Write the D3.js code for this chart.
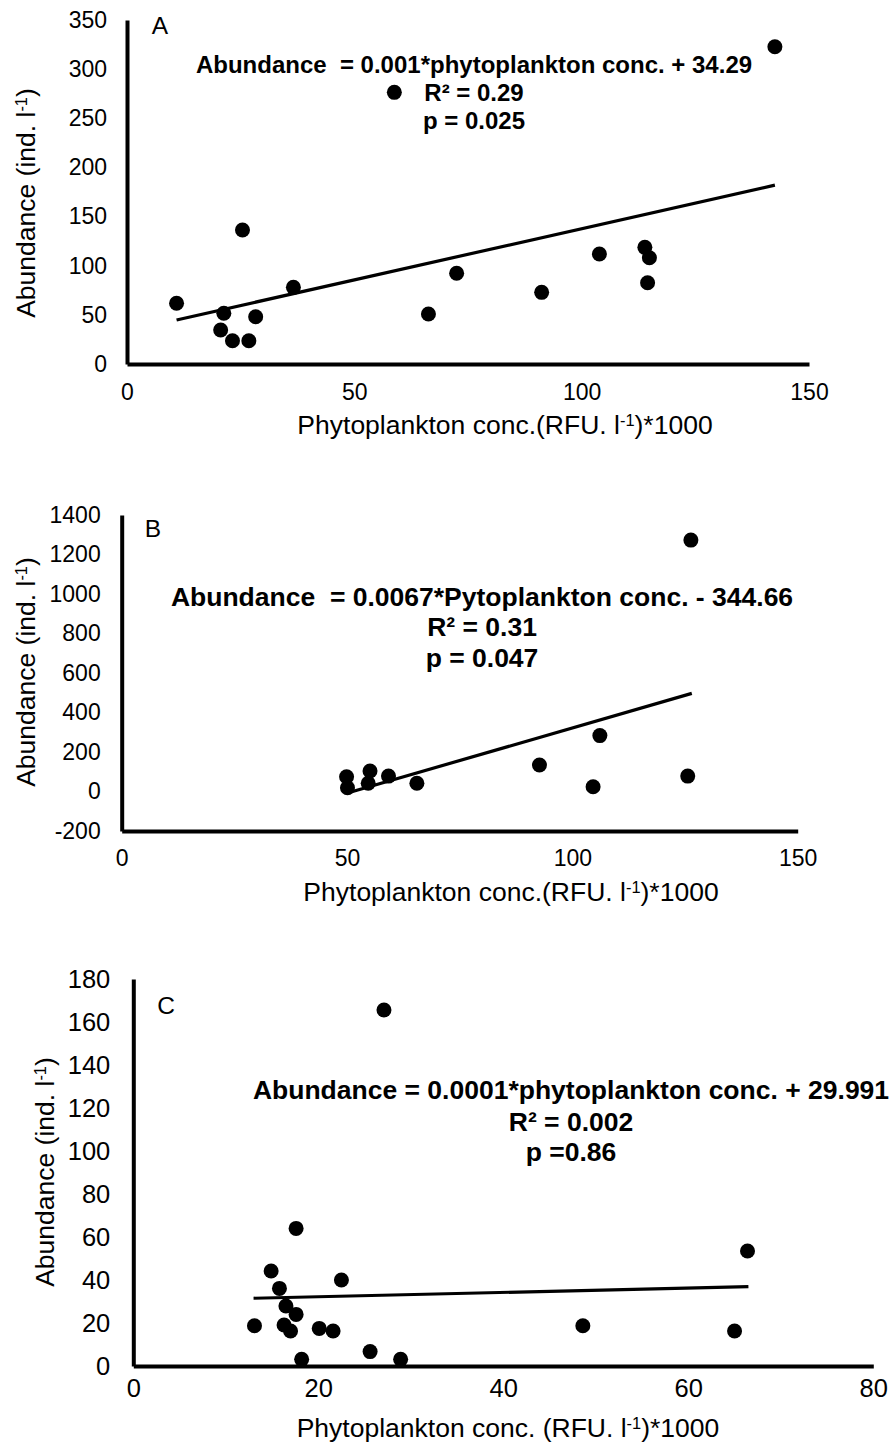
<!DOCTYPE html>
<html>
<head>
<meta charset="utf-8">
<script src="https://cdn.jsdelivr.net/npm/d3@7"></script>
<style>
  html, body { margin: 0; padding: 0; background: #fff; }
  svg { display: block; }
  text { font-family: "Liberation Sans", Arial, sans-serif; fill: #000; }
</style>
</head>
<body>
<svg id="chart" width="893" height="1443"></svg>
<script>
// ---------- Data ----------
// Panel A
const aLabel = "A";
const aPhyto = [10.9, 25.4, 21.3, 20.6, 23.2, 26.8, 28.3, 36.6, 66.3, 58.8, 142.5, 72.5, 91.2, 103.9, 113.9, 114.9, 114.5];
const aAbund = [61.8, 136.3, 51.6, 34.6, 23.7, 23.7, 48.1, 78.0, 50.9, 276.4, 322.8, 92.3, 72.9, 111.9, 118.7, 108.1, 82.7];
const aTrendX = [10.9, 142.5];
const aTrendY = [44.8, 182.0];
const aXTicks = [0, 50, 100, 150];
const aYTicks = [0, 50, 100, 150, 200, 250, 300, 350];
const aEquation = ["Abundance  = 0.001*phytoplankton conc. + 34.29", "R\u00B2 = 0.29", "p = 0.025"];

// Panel B
const bLabel = "B";
const bPhyto = [49.9, 50.1, 55.1, 54.7, 59.2, 65.5, 126.3, 92.7, 106.1, 104.6, 125.6];
const bAbund = [75, 19, 104, 42, 78, 42, 1273, 134, 283, 24, 78];
const bTrendX = [49.9, 126.5];
const bTrendY = [-9, 497];
const bXTicks = [0, 50, 100, 150];
const bYTicks = [-200, 0, 200, 400, 600, 800, 1000, 1200, 1400];
const bEquation = ["Abundance  = 0.0067*Pytoplankton conc. - 344.66", "R\u00B2 = 0.31", "p = 0.047"];

// Panel C
const cLabel = "C";
const cPhyto = [27.1, 17.6, 14.9, 15.8, 22.5, 16.5, 17.6, 13.1, 16.3, 17.0, 20.1, 21.6, 18.2, 25.6, 28.9, 66.4, 48.6, 65.0];
const cAbund = [165.6, 64.0, 44.2, 36.1, 40.0, 27.9, 24.0, 18.7, 19.1, 16.3, 17.5, 16.3, 3.1, 6.7, 3.1, 53.5, 18.7, 16.3];
const cTrendX = [13.0, 66.5];
const cTrendY = [31.5, 36.9];
const cXTicks = [0, 20, 40, 60, 80];
const cYTicks = [0, 20, 40, 60, 80, 100, 120, 140, 160, 180];
const cEquation = ["Abundance = 0.0001*phytoplankton conc. + 29.991", "R\u00B2 = 0.002", "p =0.86"];

const xTitleAB = "Phytoplankton conc.(RFU. l";
const xTitleC = "Phytoplankton conc. (RFU. l";
const yTitle = "Abundance (ind. l";

// ---------- Layout ----------
const layouts = [
  { label: aLabel, xs: aPhyto, ys: aAbund, tx: aTrendX, ty: aTrendY, xt: aXTicks, yt: aYTicks, eq: aEquation, xTitle: xTitleAB,
    xr: [127, 809], yr: [364, 20], xd: [0, 150], yd: [0, 350], tickFs: 23, xPad: 20, yPad: 20,
    eqX: 474, eqY: [65, 93, 121], eqFs: 24, lab: [160, 25], yTitlePos: [26, 203], xTitlePos: [505, 425] },
  { label: bLabel, xs: bPhyto, ys: bAbund, tx: bTrendX, ty: bTrendY, xt: bXTicks, yt: bYTicks, eq: bEquation, xTitle: xTitleAB,
    xr: [121.7, 797.7], yr: [831, 515], xd: [0, 150], yd: [-200, 1400], tickFs: 23, xPad: 18.5, yPad: 21,
    eqX: 482, eqY: [597, 627, 658], eqFs: 26.5, lab: [153, 528], yTitlePos: [26, 672], xTitlePos: [511, 892] },
  { label: cLabel, xs: cPhyto, ys: cAbund, tx: cTrendX, ty: cTrendY, xt: cXTicks, yt: cYTicks, eq: cEquation, xTitle: xTitleC,
    xr: [133.3, 873.3], yr: [1366, 979], xd: [0, 80], yd: [0, 180], tickFs: 25.5, xPad: 13, yPad: 23,
    eqX: 571, eqY: [1090, 1122, 1152], eqFs: 26.5, lab: [166, 1005], yTitlePos: [45, 1172], xTitlePos: [508, 1428] }
];

const svg = d3.select("#chart");
const plainFmt = d => String(d);

function addSupTitle(sel, base) {
  sel.append("tspan").text(base);
  sel.append("tspan").attr("font-size", "0.62em").attr("dy", "-0.5em").text("-1");
  sel.append("tspan").attr("dy", "0.31em").text(")" + (base.startsWith("Phyto") ? "*1000" : ""));
}

layouts.forEach(p => {
  const g = svg.append("g");
  const x = d3.scaleLinear().domain(p.xd).range(p.xr);
  const y = d3.scaleLinear().domain(p.yd).range(p.yr);

  // X axis
  const xAxis = d3.axisBottom(x).tickValues(p.xt).tickSize(0).tickSizeOuter(0).tickPadding(p.xPad).tickFormat(plainFmt);
  const gx = g.append("g").attr("transform", `translate(0,${p.yr[0]})`).call(xAxis);
  gx.select(".domain").attr("stroke", "#000").attr("stroke-width", 4);
  gx.selectAll("text").attr("font-size", p.tickFs).attr("font-family", "Liberation Sans, Arial, sans-serif").attr("fill", "#000");

  // Y axis
  const yAxis = d3.axisLeft(y).tickValues(p.yt).tickSize(0).tickSizeOuter(0).tickPadding(p.yPad).tickFormat(plainFmt);
  const gy = g.append("g").attr("transform", `translate(${p.xr[0]},0)`).call(yAxis);
  gy.select(".domain").attr("stroke", "#000").attr("stroke-width", 4);
  gy.selectAll("text").attr("font-size", p.tickFs).attr("font-family", "Liberation Sans, Arial, sans-serif").attr("fill", "#000");

  // trend line
  const line = d3.line().x(d => x(d[0])).y(d => y(d[1]));
  g.append("path")
    .datum(p.tx.map((v, i) => [v, p.ty[i]]))
    .attr("d", line)
    .attr("fill", "none").attr("stroke", "#000").attr("stroke-width", 3.2);

  // points
  g.selectAll("circle.pt").data(p.xs.map((v, i) => [v, p.ys[i]])).enter()
    .append("circle").attr("class", "pt")
    .attr("cx", d => x(d[0])).attr("cy", d => y(d[1])).attr("r", 7.5).attr("fill", "#000");

  // panel letter
  g.append("text").attr("x", p.lab[0]).attr("y", p.lab[1]).attr("dy", "0.35em")
    .attr("text-anchor", "middle").attr("font-size", 24.5).text(p.label);

  // equation
  p.eq.forEach((t, i) => {
    g.append("text").attr("x", p.eqX).attr("y", p.eqY[i]).attr("dy", "0.35em")
      .attr("text-anchor", "middle").attr("font-size", p.eqFs).attr("font-weight", "bold")
      .style("white-space", "pre").attr("xml:space", "preserve").text(t);
  });

  // x title
  const xt = g.append("text").attr("x", p.xTitlePos[0]).attr("y", p.xTitlePos[1]).attr("dy", "0.35em")
    .attr("text-anchor", "middle").attr("font-size", 26.5);
  addSupTitle(xt, p.xTitle);

  // y title
  const yt = g.append("text").attr("transform", `translate(${p.yTitlePos[0]},${p.yTitlePos[1]}) rotate(-90)`)
    .attr("dy", "0.35em").attr("text-anchor", "middle").attr("font-size", 26.5);
  addSupTitle(yt, yTitle);
});
</script>
</body>
</html>
